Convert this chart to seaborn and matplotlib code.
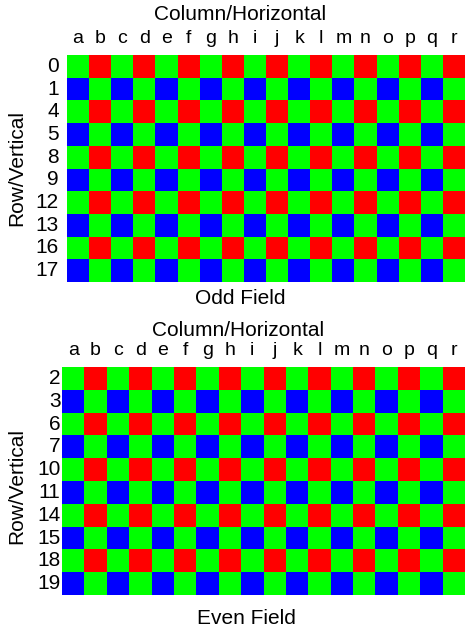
import numpy as np
import matplotlib
matplotlib.use("Agg")
import matplotlib.pyplot as plt
import seaborn as sns
from matplotlib.colors import ListedColormap

# column letters shared by both fields
columns = list("abcdefghijklmnopqr")

# Bayer rows (G=green, R=red, B=blue)
odd_rows = ["0", "1", "4", "5", "8", "9", "12", "13", "16", "17"]
odd_pattern = [
    "GRGRGRGRGRGRGRGRGR",
    "BGBGBGBGBGBGBGBGBG",
    "GRGRGRGRGRGRGRGRGR",
    "BGBGBGBGBGBGBGBGBG",
    "GRGRGRGRGRGRGRGRGR",
    "BGBGBGBGBGBGBGBGBG",
    "GRGRGRGRGRGRGRGRGR",
    "BGBGBGBGBGBGBGBGBG",
    "GRGRGRGRGRGRGRGRGR",
    "BGBGBGBGBGBGBGBGBG",
]

even_rows = ["2", "3", "6", "7", "10", "11", "14", "15", "18", "19"]
even_pattern = [
    "GRGRGRGRGRGRGRGRGR",
    "BGBGBGBGBGBGBGBGBG",
    "GRGRGRGRGRGRGRGRGR",
    "BGBGBGBGBGBGBGBGBG",
    "GRGRGRGRGRGRGRGRGR",
    "BGBGBGBGBGBGBGBGBG",
    "GRGRGRGRGRGRGRGRGR",
    "BGBGBGBGBGBGBGBGBG",
    "GRGRGRGRGRGRGRGRGR",
    "BGBGBGBGBGBGBGBGBG",
]

code = {"G": 0, "R": 1, "B": 2}
cmap = ListedColormap(["#00ff00", "#ff0000", "#0000ff"])

sns.set_style("white")
plt.rcParams["font.family"] = ["Liberation Sans", "DejaVu Sans"]
plt.rcParams["text.color"] = "black"
plt.rcParams["xtick.color"] = "black"
plt.rcParams["ytick.color"] = "black"

W, H = 466, 629
fig = plt.figure(figsize=(W / 100, H / 100), dpi=100)


def draw_field(rect, rows, pattern, ylab_pad):
    ax = fig.add_axes(rect)
    grid = np.array([[code[c] for c in r] for r in pattern])
    sns.heatmap(grid, ax=ax, cmap=cmap, vmin=-0.5, vmax=2.5, cbar=False,
                xticklabels=columns, yticklabels=rows)
    ax.xaxis.tick_top()
    ax.tick_params(axis="x", length=0, pad=6, labelsize=14, rotation=0)
    ax.tick_params(axis="y", length=0, pad=ylab_pad, labelsize=15, rotation=0)
    for s in ax.spines.values():
        s.set_visible(False)
    return ax


draw_field([67 / W, 1 - 282 / H, 398 / W, 227 / H], odd_rows, odd_pattern, 6)
draw_field([62 / W, 1 - 595 / H, 403 / W, 228 / H], even_rows, even_pattern, 1)

fig.text(240 / W, 1 - 15 / H, "Column/Horizontal", ha="center", va="center", fontsize=15)
fig.text(240 / W, 1 - 299 / H, "Odd Field", ha="center", va="center", fontsize=15)
fig.text(17 / W, 1 - 168 / H, "Row/Vertical", ha="center", va="center", rotation=90, fontsize=15)

fig.text(238 / W, 1 - 330 / H, "Column/Horizontal", ha="center", va="center", fontsize=15)
fig.text(246 / W, 1 - 618 / H, "Even Field", ha="center", va="center", fontsize=15)
fig.text(17 / W, 1 - 486 / H, "Row/Vertical", ha="center", va="center", rotation=90, fontsize=15)

fig.savefig("out.png", dpi=100)
